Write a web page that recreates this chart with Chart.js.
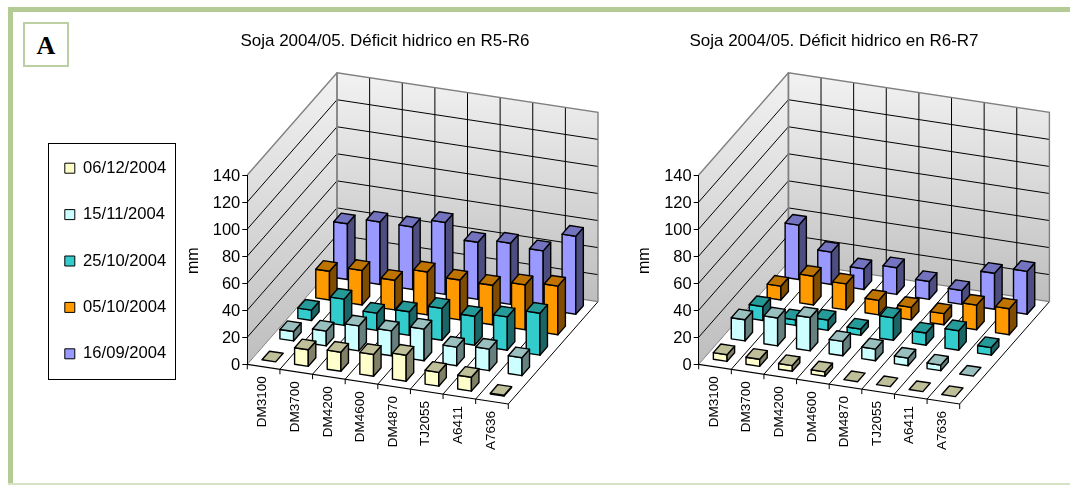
<!DOCTYPE html>
<html><head><meta charset="utf-8">
<script src="https://cdn.jsdelivr.net/npm/chart.js@4/dist/chart.umd.js"></script>
<style>
html,body{margin:0;padding:0;background:#fff;overflow:hidden;width:1070px;height:485px}
body{position:relative}
.frame{position:absolute;background:#B5CB96}
#badge{position:absolute;left:23px;top:22px;width:42px;height:41px;border:2px solid #BCCFA3;background:#fff;
 font:bold 26px "Liberation Serif",serif;text-align:center;line-height:44px;color:#000}
canvas{position:absolute}
#wrapL{position:absolute;left:35px;top:20px;width:565px;height:450px}
#wrapR{position:absolute;left:617px;top:20px;width:434px;height:450px}
</style></head><body>
<div class="frame" style="left:8px;top:7px;width:1062px;height:5px"></div>
<div class="frame" style="left:8px;top:7px;width:5px;height:478px"></div>
<div class="frame" style="left:8px;top:483px;width:1062px;height:2px;background:#D5E2C4"></div>
<div id="badge">A</div>
<div id="wrapL"><canvas id="chartL" width="565" height="450"></canvas></div>
<div id="wrapR"><canvas id="chartR" width="434" height="450"></canvas></div>
<script>
const categories = ['DM3100','DM3700','DM4200','DM4600','DM4870','TJ2055','A6411','A7636'];
const seriesLabels = ['06/12/2004','15/11/2004','25/10/2004','05/10/2004','16/09/2004'];
const seriesColors = ['#FFFFCC','#CCFFFF','#33CCCC','#FF9900','#9999FF'];
const yTicks = {min:0, max:140, step:20};
const yLabel = 'mm';
const titleLeft = 'Soja 2004/05. Déficit hidrico en R5-R6';
const titleRight = 'Soja 2004/05. Déficit hidrico en R6-R7';

const r56_dec06 = [0,12.6,14.5,16.5,19.6,10.6,10.6,1];
const r56_nov15 = [7.3,11.3,18.8,18.8,23.8,14.1,16.3,13.6];
const r56_oct25 = [8,19.8,13.1,17.8,24,21.8,25,31.4];
const r56_oct05 = [21.6,25.9,22.3,32.1,29.8,29.6,33.6,36.3];
const r56_sep16 = [41.6,46.6,46.6,53.6,42.6,45.6,43.6,58.1];

const r67_dec06 = [5.3,5.6,4.6,3.6,0,0,0,0];
const r67_nov15 = [16,21,25,11,9,6,4.5,0];
const r67_oct25 = [10.6,4.5,8,5,17,9.4,14.8,6];
const r67_oct05 = [10.6,21.6,19.6,11.1,9.6,8.6,18.6,19.6];
const r67_sep16 = [40.6,24.3,15.6,20.1,13.6,10.6,27,32.1];

// oblique projection of the 3-D box
const depthDx = 17.94, depthDy = -20.46, slope = 0.152, depthSlots = 5, barDepthFrom = .29, barDepthTo = .71;
const FONT = '"Liberation Sans",Arial,sans-serif';

function shade(hex,f){
  const n=parseInt(hex.slice(1),16);
  return `rgb(${(n>>16&255)*f},${(n>>8&255)*f},${(n&255)*f})`;
}
function projector(chart){
  const l=chart.chartArea.left;
  return (px,py,d)=>[px+d*depthDx, py+(px-l)*slope+d*depthDy];
}
function poly(ctx,pts,fill,stroke,lw){
  ctx.beginPath();
  pts.forEach((p,i)=>i?ctx.lineTo(p[0],p[1]):ctx.moveTo(p[0],p[1]));
  ctx.closePath();
  if(fill){ctx.fillStyle=fill;ctx.fill();}
  if(stroke){ctx.strokeStyle=stroke;ctx.lineWidth=lw;ctx.lineJoin='round';ctx.stroke();}
}
function line(ctx,pts,c,lw){
  ctx.beginPath();
  pts.forEach((p,i)=>i?ctx.lineTo(p[0],p[1]):ctx.moveTo(p[0],p[1]));
  ctx.strokeStyle=c;ctx.lineWidth=lw;ctx.stroke();
}
const box3d = {
  id:'box3d',
  afterLayout(chart,args,opts){
    const s=chart.scales.y;
    if(!s._shifted){
      const orig=s.drawTitle;
      s.drawTitle=function(){const c=this.ctx;c.save();c.translate(0,opts.titleShift);orig.call(this);c.restore();};
      s._shifted=true;
    }
    const tb=chart.titleBlock;
    tb.left=opts.titleCenter-200; tb.right=opts.titleCenter+200;
    if(opts.legendShift){chart.legend.top+=opts.legendShift;chart.legend.bottom+=opts.legendShift;}
  },
  beforeDraw(chart){
    const ctx=chart.ctx, a=chart.chartArea, P=projector(chart), xs=chart.scales.x, ys=chart.scales.y;
    const l=a.left,r=a.right,t=a.top,b=a.bottom,D=depthSlots;
    ctx.save();
    const gl=ctx.createLinearGradient(0,P(l,t,D)[1],0,P(l,b,0)[1]);
    gl.addColorStop(0,'#F2F2F2');gl.addColorStop(1,'#BEBEBE');
    poly(ctx,[P(l,t,0),P(l,b,0),P(l,b,D),P(l,t,D)],gl);
    const gb=ctx.createLinearGradient(0,P(l,t,D)[1],0,P(r,b,D)[1]);
    gb.addColorStop(0,'#F2F2F2');gb.addColorStop(1,'#BEBEBE');
    poly(ctx,[P(l,t,D),P(r,t,D),P(r,b,D),P(l,b,D)],gb);
    poly(ctx,[P(l,b,0),P(r,b,0),P(r,b,D),P(l,b,D)],'#fff');
    ys.ticks.forEach(tk=>{
      if(tk.value===0||tk.value===yTicks.max) return;
      const y=ys.getPixelForValue(tk.value);
      line(ctx,[P(l,y,0),P(l,y,D),P(r,y,D)],'#000',1);
    });
    const band=xs.getPixelForValue(1)-xs.getPixelForValue(0);
    const edges=categories.map((_,i)=>xs.getPixelForValue(i)-band/2).concat([r]);
    edges.forEach((e,i)=>{
      if(i>0&&i<edges.length-1) line(ctx,[P(e,t,D),P(e,b,D)],'#000',1);
      if(i>0) line(ctx,[P(e,b,0),P(e,b,D)],'#000',1);
      const f=P(e,b,0);
      line(ctx,[f,[f[0],f[1]+5]],'#000',1);
    });
    line(ctx,[P(l,b,0),P(r,b,0)],'#000',1.2);
    line(ctx,[P(l,t,0),P(l,t,D),P(r,t,D),P(r,b,D)],'#808080',1.4);
    line(ctx,[P(l,b,D),P(r,b,D)],'#808080',1.2);
    line(ctx,[P(l,t,D),P(l,b,D)],'#808080',1.8);
    line(ctx,[P(l,b,0),P(l,b,D)],'#808080',1);
    // category labels follow the front edge of the floor
    ctx.fillStyle='#000';ctx.font='13.5px '+FONT;ctx.textAlign='right';ctx.textBaseline='middle';
    categories.forEach((c,i)=>{
      const p=P(xs.getPixelForValue(i),b,0);
      ctx.save();ctx.translate(p[0]-1,p[1]+9.5);ctx.rotate(-Math.PI/2);
      ctx.fillText(xs.getLabelForValue(i),0,0);ctx.restore();
    });
    ctx.restore();
  },
  beforeDatasetsDraw(chart){
    const ctx=chart.ctx, P=projector(chart);
    ctx.save();
    for(let j=chart.data.datasets.length-1;j>=0;j--){
      const ds=chart.data.datasets[j], els=chart.getDatasetMeta(j).data;
      const d1=j+barDepthFrom,d2=j+barDepthTo,col=ds.backgroundColor;
      els.forEach(el=>{
        const x1=el.x-el.width/2,x2=el.x+el.width/2,y=el.y,b=el.base;
        if(b-y>0.5){
          poly(ctx,[P(x1,y,d1),P(x2,y,d1),P(x2,b,d1),P(x1,b,d1)],col,'#000',1.4);
          poly(ctx,[P(x2,y,d1),P(x2,y,d2),P(x2,b,d2),P(x2,b,d1)],shade(col,.5),'#000',1.4);
        }
        poly(ctx,[P(x1,y,d1),P(x2,y,d1),P(x2,y,d2),P(x1,y,d2)],shade(col,.75),'#000',1.4);
      });
    }
    ctx.restore();
    return false;
  },
  afterDraw(chart,args,opts){
    if(!opts.legendBox) return;
    const c=chart.ctx,[x,y,w,h]=opts.legendBox;
    c.save();c.strokeStyle='#000';c.lineWidth=1;c.strokeRect(x+.5,y+.5,w,h);c.restore();
  }
};
Chart.register(box3d);

function makeChart(id,title,series,cfg){
  return new Chart(document.getElementById(id),{
    type:'bar',
    data:{labels:categories,datasets:series.map((v,i)=>({
      label:seriesLabels[i],data:v,backgroundColor:seriesColors[i],borderColor:'#000',borderWidth:1,
      barPercentage:.42,categoryPercentage:1,grouped:false
    }))},
    options:{
      responsive:false,animation:false,
      layout:{padding:{right:cfg.padRight}},
      plugins:{
        tooltip:{enabled:false},
        title:{display:true,text:title,color:'#000',font:{family:FONT,size:17,weight:'normal'},
          padding:{top:11,bottom:123.6}},
        legend:{display:cfg.legend,position:'left',maxWidth:140,
          labels:{boxWidth:10,boxHeight:10,padding:29.8,color:'#000',font:{family:FONT,size:16.6}}},
        box3d:{legendBox:cfg.legendBox,titleShift:-9,titleCenter:cfg.titleCenter,legendShift:cfg.legendShift}
      },
      scales:{
        x:{display:true,grid:{display:false},border:{display:false},ticks:{display:false},
           afterFit(s){s.height=105.7;}},
        y:{min:yTicks.min,max:yTicks.max,ticks:{stepSize:yTicks.step,color:'#000',padding:2,labelOffset:1.5,font:{family:FONT,size:16.5}},
           grid:{display:true,drawOnChartArea:false,color:'#000',tickLength:5},
           border:{display:true,color:'#000'},
           title:{display:true,text:yLabel,color:'#000',font:{family:FONT,size:16},padding:{top:cfg.titlePad,bottom:0}},
           afterFit(s){s.width=cfg.axisWidth;}}
      }
    }
  });
}
makeChart('chartL',titleLeft,[r56_dec06,r56_nov15,r56_oct25,r56_oct05,r56_sep16],
  {legend:true,padRight:91.7,axisWidth:72.3,titlePad:8.9,titleCenter:350,legendShift:16,legendBox:[13,123,127,236]});
makeChart('chartR',titleRight,[r67_dec06,r67_nov15,r67_oct25,r67_oct05,r67_sep16],
  {legend:false,padRight:91.3,axisWidth:81.7,titlePad:17.9,titleCenter:217});
</script>
</body></html>
